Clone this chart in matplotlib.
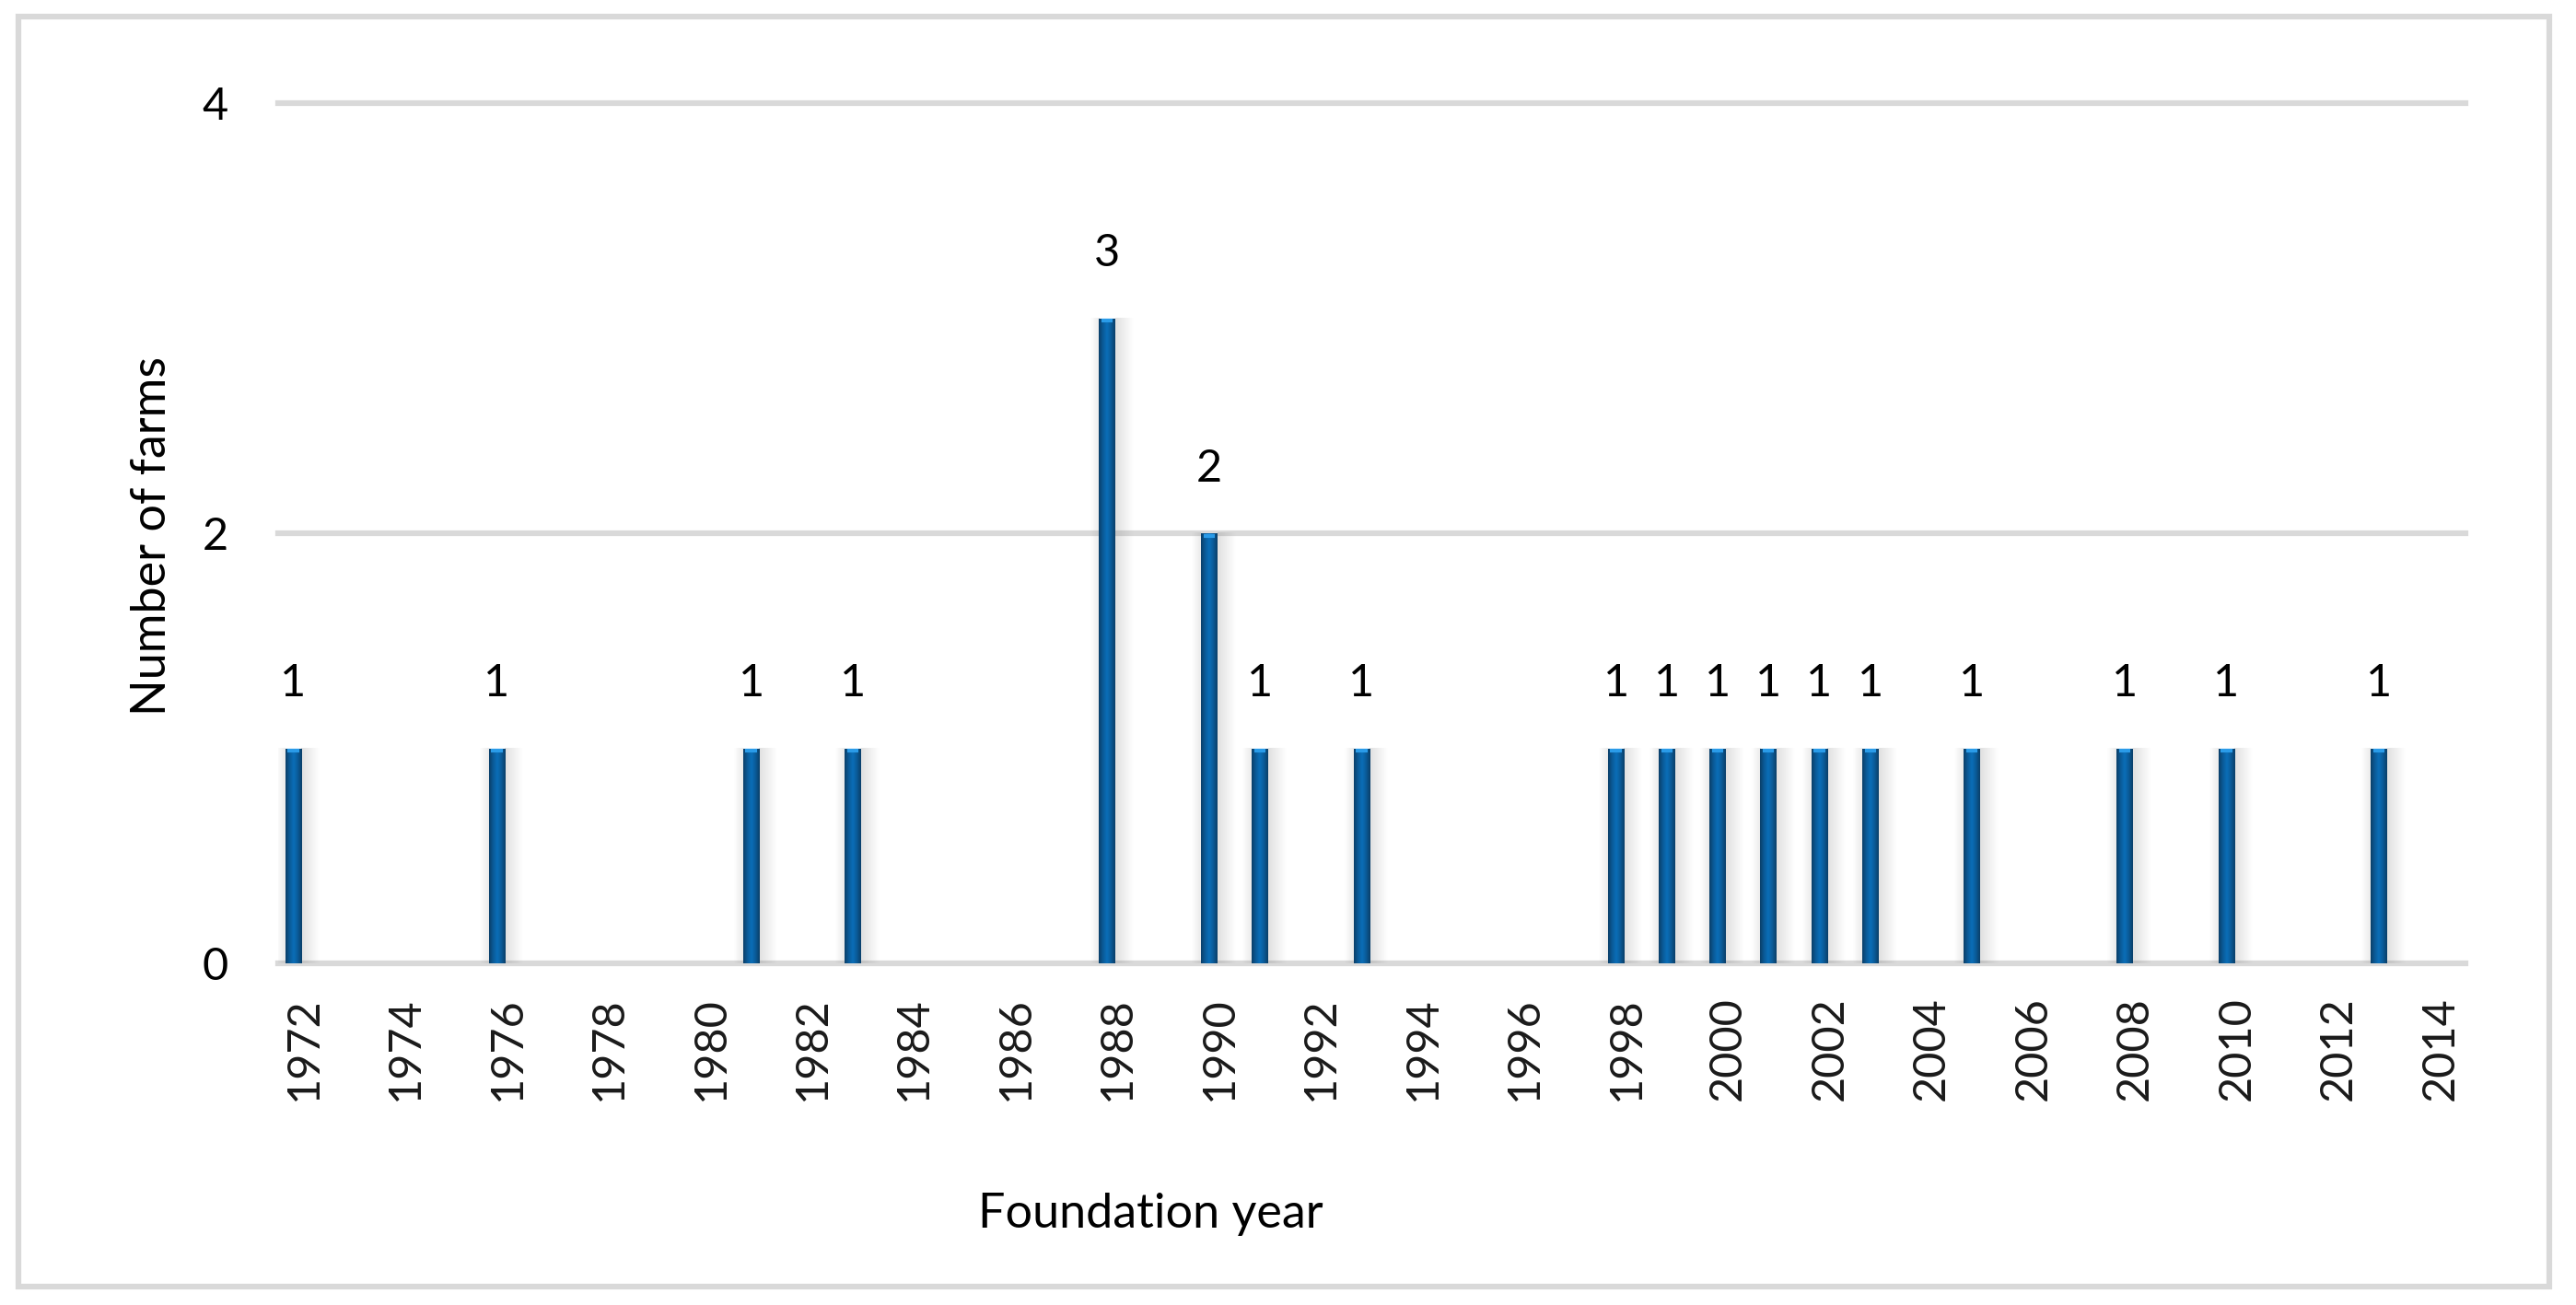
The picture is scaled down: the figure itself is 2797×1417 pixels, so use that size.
import numpy as np
import matplotlib
matplotlib.use("Agg")
import matplotlib.pyplot as plt
from matplotlib.colors import LinearSegmentedColormap

# data
years = [1972, 1976, 1981, 1983, 1988, 1990, 1991, 1993, 1998, 1999,
         2000, 2001, 2002, 2003, 2005, 2008, 2010, 2013]
farms = [1, 1, 1, 1, 3, 2, 1, 1, 1, 1, 1, 1, 1, 1, 1, 1, 1, 1]
tick_years = list(range(1972, 2015, 2))
y_ticks = [0, 2, 4]

plt.rcParams['font.family'] = ['Lato', 'DejaVu Sans']

W, H = 2797, 1417
fig = plt.figure(figsize=(W / 100, H / 100), dpi=100)
ax = fig.add_axes([302 / W, 1 - 1046 / H, (2677 - 302) / W, (1046 - 112) / H])

grid_col = '#d9d9d9'
for v in y_ticks:
    ax.axhline(v, color=grid_col, lw=4.5, zorder=1, clip_on=False)

bar_offset = -0.2
bar_w = 0.32
bars = ax.bar([y + bar_offset for y in years], farms, width=bar_w,
              color='#0a64a8', zorder=3, linewidth=0)

# cylinder-like shading of bars and soft shadow on the sides
bar_cmap = LinearSegmentedColormap.from_list(
    'barshade', ['#0b3f68', '#0a5a98', '#0b6fb8', '#0a5a98', '#0b3f68'])
grad = np.linspace(0, 1, 64).reshape(1, -1)
shadow = np.zeros((1, 64, 4))
shadow[..., :3] = 0.45
for b in bars:
    x0, w, h = b.get_x(), b.get_width(), b.get_height()
    im = ax.imshow(grad, cmap=bar_cmap, aspect='auto', zorder=4,
                   extent=[x0, x0 + w, 0, h], interpolation='bicubic')
    im.set_clip_path(b)
    # light cap on top of the column
    ax.plot([x0 + w * 0.15, x0 + w * 0.85], [h - 0.012, h - 0.012],
            color='#2a9be8', lw=3, zorder=5, solid_capstyle='butt')
    # shadow right
    s = shadow.copy()
    s[..., 3] = np.linspace(0.22, 0, 64)
    ax.imshow(s, aspect='auto', zorder=2, extent=[x0 + w, x0 + w + 0.35, 0, h],
              interpolation='bicubic')
    s2 = shadow.copy()
    s2[..., 3] = np.linspace(0, 0.15, 64)
    ax.imshow(s2, aspect='auto', zorder=2, extent=[x0 - 0.18, x0, 0, h],
              interpolation='bicubic')
    ax.text(b.get_x() + w / 2, h + 0.30, f'{int(h)}', ha='center', va='center',
            fontsize=35, color='black', zorder=5)

ax.set_xlim(tick_years[0] - 0.5, tick_years[-1] + 0.5)
ax.set_ylim(0, 4)
ax.set_xticks(tick_years)
ax.set_xticklabels([str(t) for t in tick_years], rotation=90, fontsize=35,
                   color='#1a1a1a')
ax.set_yticks(y_ticks)
ax.set_yticklabels([str(t) for t in y_ticks], fontsize=35, color='black')
ax.tick_params(axis='both', length=0)
ax.tick_params(axis='x', pad=26)
ax.tick_params(axis='y', pad=39)
for sp in ax.spines.values():
    sp.set_visible(False)
ax.set_facecolor('none')

fig.text(165 / W, 1 - 582 / H, 'Number of farms', rotation=90, ha='center',
         va='center', fontsize=37.5)
fig.text(1249 / W, 1 - 1318 / H, 'Foundation year', ha='center', va='center',
         fontsize=37.5)

# outer chart frame
frame = plt.Rectangle((20 / W, 1 - 1397 / H), (2768 - 20) / W, (1397 - 18) / H,
                      transform=fig.transFigure, fill=False, edgecolor=grid_col,
                      lw=4.5)
fig.add_artist(frame)

fig.savefig('out.png', dpi=100)
